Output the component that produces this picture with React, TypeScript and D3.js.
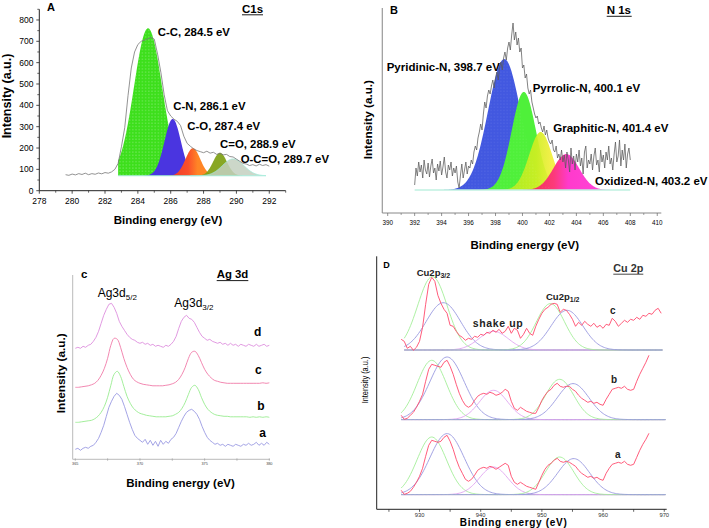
import React from "react";
import * as d3 from "d3";

const FONT = "'Liberation Sans', Arial, Helvetica, sans-serif";

// ================= Panel A : C1s =================
const c1sStart = 279.6;
const c1sStep = 0.2;
const c1sIntensity = [75, 72, 78, 74, 80, 76, 82, 75, 80, 77, 83, 79, 85, 82, 88, 100, 128, 206, 295, 445, 575, 650, 685, 700, 705, 712, 718, 710, 640, 555, 450, 375, 350, 335, 325, 305, 255, 222, 208, 196, 188, 183, 178, 185, 176, 180, 170, 175, 168, 170, 160, 158, 148, 138, 128, 125, 118, 122, 116, 124, 118, 122, 115];
const c1sBaseline = 70;
const c1sFitRange = [282.8, 291.8];
const c1sCenters = [284.62, 286.12, 287.35, 289.0, 289.8];
const c1sHeights = [691, 266, 129, 108, 79];
const c1sSigmas = [0.85, 0.5, 0.45, 0.42, 0.65];
const c1sLabels = ["C-C, 284.5 eV", "C-N, 286.1 eV", "C-O, 287.4 eV", "C=O, 288.9 eV", "O-C=O, 289.7 eV"];
const c1sYTicks = [0, 100, 200, 300, 400, 500, 600, 700, 800];
const c1sXTicks = [278, 280, 282, 284, 286, 288, 290, 292];

// ================= Panel B : N 1s =================
const n1sStart = 392.0;
const n1sStep = 0.1;
const n1sIntensity = [
  5, 22, 14, 28, 18, 25, 12, 30, 20, 16, 27, 13, 24, 31, 17, 22, 10, 26, 19, 29, 15, 23, 33, 18, 12, 25, 20, 28, 14, 22, 17,
  24, 8, 2, 15, 26, 12, 20, 28, 16, 24,
  22, 30, 26, 38, 44, 40, 52, 58, 66, 60,
  76, 88, 82, 94, 100, 96, 104, 110, 102, 112,
  118, 110, 122, 128, 120, 132, 138, 130, 142, 148,
  140, 155, 167, 150, 158, 145, 152, 138, 142, 122,
  125, 112, 116, 102, 96, 100, 88, 82, 76, 72,
  74, 66, 68, 62, 58, 64, 55, 60, 52, 48,
  46, 50, 40, 38, 44, 32, 36, 30, 40, 28,
  35, 22, 38, 30, 18, 42, 26, 34, 20, 36,
  28, 40, 24, 32, 16, 38, 44, 22, 30, 26,
  36, 20, 34, 42, 25, 30, 18, 40, 28, 35,
  22, 38, 30, 44, 26, 32, 20, 36, 48, 28,
  34, 50, 24, 40, 30, 46, 22, 36, 42, 30,
];
const n1sFitRange = [392, 408];
const n1sCenters = [398.65, 400.1, 401.35, 403.25];
const n1sHeights = [131, 98, 58, 36];
const n1sSigmas = [1.2, 0.9, 0.85, 0.95];
const n1sLabels = ["Pyridinic-N, 398.7 eV", "Pyrrolic-N, 400.1 eV", "Graphitic-N, 401.4 eV", "Oxidized-N, 403.2 eV"];
const n1sXTicks = [390, 392, 394, 396, 398, 400, 402, 404, 406, 408, 410];

// ================= Panel C : Ag 3d =================
const agSmoothStep = 0.25;
const agNoisyStep = 0.2;
const agStart = 365;
const agA = [10, 11, 9, 11, 12, 11, 13, 14, 17, 21, 27, 34, 43, 52, 58, 63, 66, 64, 60, 53, 45, 37, 30, 24, 21, 19, 17, 20, 15, 19, 14, 18, 13, 19, 15, 18, 16, 20, 22, 26, 32, 38, 43, 47, 49, 50, 48, 45, 40, 33, 27, 22, 19, 17, 15, 16, 14, 15, 13, 15, 14, 13, 15, 14, 13, 15, 14, 16, 14, 15, 17, 14, 16, 14, 17, 15];
const agB = [37, 37, 37.5, 38, 38.5, 39, 40.5, 43, 47, 53, 62, 74, 85, 88, 83, 73, 63, 56, 51, 48, 46, 45, 44, 43.5, 43, 42.5, 42.5, 42.5, 42.5, 43, 43.5, 45, 47, 51, 57, 65, 72, 74, 70, 62, 55, 50, 47, 45, 44, 43.5, 43, 43, 42.5, 42.5, 42.5, 42.5, 42.5, 42.5, 42, 42.5, 42, 42.5, 42, 42.5, 42];
const agC = [72, 72, 72.5, 73, 73.5, 74.5, 76, 79, 84, 91, 101, 114, 121, 120, 112, 101, 92, 85, 80, 77.5, 76, 75, 74.5, 74, 73.5, 73.5, 73.5, 73.5, 74, 74.5, 75.5, 77, 80, 85, 92, 101, 107, 108, 104, 97, 90, 85, 81.5, 79, 78, 77, 76.5, 76, 76, 76, 76, 76, 76, 76, 76, 76, 76, 76, 76.5, 76, 76.5];
const agD = [111, 112, 111, 113, 112, 114, 115, 118, 122, 128, 136, 144, 150, 155, 156, 152, 146, 138, 133, 129, 125, 122, 120, 119, 117, 116, 117, 115, 116, 114, 115, 113, 114, 113, 112, 114, 113, 115, 118, 123, 131, 138, 142, 144, 141, 140, 137, 132, 127, 123, 121, 119, 120, 118, 117, 116, 117, 115, 116, 114, 116, 114, 115, 113, 115, 114, 113, 115, 114, 113, 115, 113, 114, 115, 113, 114];
const agXTicks = [365, 370, 375, 380];
const agMinorTicks = [365, 367.5, 370, 372.5, 375, 377.5, 380];
const agSeriesNames = ["a", "b", "c", "d"];

// ================= Panel D : Cu 2p =================
const cuStart = 927.0;
const cuStep = 0.5;
const cuC = [170, 168, 161, 163, 159, 162, 168, 182, 205, 225, 232, 228, 214, 206, 200, 196, 184, 183, 178, 174, 172, 169, 171, 170, 173, 172, 175, 174, 177, 176, 179, 177, 180, 176, 178, 183, 176, 181, 179, 171, 175, 181, 176, 174, 183, 190, 196, 200, 202, 205, 206, 205, 197, 200, 199, 195, 190, 183, 187, 184, 188, 185, 183, 186, 182, 184, 181, 185, 184, 191, 188, 183, 186, 189, 187, 190, 189, 192, 190, 194, 193, 196, 195, 199, 201, 196];
const cuB = [94, 90, 91, 94, 97, 102, 108, 115, 128, 140, 145, 144, 143, 142, 147, 149, 143, 135, 125, 116, 109, 104, 102, 104, 109, 113, 115, 116, 115, 117, 116, 114, 115, 117, 120, 118, 108, 101, 99, 102, 100, 98, 97, 96, 96, 102, 109, 114, 118, 120, 124, 126, 123, 122, 123, 123, 120, 118, 114, 111, 109, 107, 108, 106, 107, 105, 104, 110, 115, 120, 121, 122, 121, 123, 120, 119, 120, 128, 135, 141, 147, 154];
const cuA = [19, 15, 16, 18, 22, 27, 33, 41, 53, 64, 69, 68, 67, 68, 72, 74, 68, 60, 50, 42, 36, 30, 28, 30, 34, 39, 41, 42, 41, 43, 42, 40, 42, 44, 46, 44, 33, 27, 25, 27, 25, 23, 22, 21, 20, 27, 34, 40, 44, 46, 49, 51, 48, 47, 48, 47, 45, 43, 39, 36, 34, 32, 33, 31, 32, 30, 29, 36, 41, 45, 46, 47, 46, 48, 45, 44, 45, 52, 59, 65, 70, 76];
const cuBaselines = [14.7, 89.7, 159.3];
const cuRanges = [[927.0, 970.2], [927.0, 970.2], [927.5, 969.7]];
// peaks per spectrum: [Cu2p3/2 green, Cu2p3/2 blue, shake-up, Cu2p1/2 green, Cu2p1/2 blue]
const cuCenters = [
  [932.0, 934.5, 942.1, 952.9, 955.2],
  [932.0, 934.5, 942.1, 952.9, 955.1],
  [932.1, 933.9, 942.1, 951.4, 954.1],
];
const cuHeights = [
  [57.6, 61.0, 27.6, 37.6, 36.0],
  [59.3, 62.6, 29.3, 40.3, 36.0],
  [73.4, 47.3, 18.7, 46.4, 39.7],
];
const cuSigmas = [
  [2.4, 2.8, 2.3, 2.3, 2.6],
  [2.4, 2.8, 2.3, 2.3, 2.6],
  [2.4, 2.8, 2.4, 2.3, 2.6],
];
const cuXTicks = [930, 940, 950, 960, 970];
const cuMinorTicks = [925, 930, 935, 940, 945, 950, 955, 960, 965, 970];
const cuSeriesNames = ["a", "b", "c"];

// ================= helpers =================
type P = [number, number];
const toPts = (start: number, step: number, vals: number[]): P[] => vals.map((v, i) => [start + i * step, v]);
const gauss = (c: number, h: number, s: number, base: number, lo: number, hi: number, n = 160): P[] =>
  d3.range(n + 1).map((i) => {
    const x = lo + ((hi - lo) * i) / n;
    return [x, base + h * Math.exp(-((x - c) * (x - c)) / (2 * s * s))];
  });

const xA = d3.scaleLinear().domain([278, 293]).range([39.3, 285.7]);
const yA = d3.scaleLinear().domain([0, 850]).range([190.7, 9.3]);
const xB = d3.scaleLinear().domain([389.6, 410.3]).range([382.3, 661.3]);
const yB = d3.scaleLinear().domain([-23, 182]).range([213, 8]);
const xC = d3.scaleLinear().domain([364.8, 380]).range([72.7, 269.3]);
const yC = d3.scaleLinear().domain([0, 184]).range([459.3, 275.3]);
const xD = d3.scaleLinear().domain([923, 970.4]).range([376.7, 666.7]);
const yD = d3.scaleLinear().domain([0, 253]).range([509.3, 256.3]);

const aColors = ["#3ddf1c", "#4a35e0", "url(#gCO)", "#7ea012", "#c3d0c0"];
const aOpac = [1, 1, 1, 0.92, 0.85];
const bColors = ["#4258e0", "#4ff03a", "url(#gYel)", "url(#gMag)"];
const bOpac = [1, 1, 0.92, 1];
const cColors = ["#9a9ae2", "#98ec90", "#f07aa8", "#de8ede"];
const dColors = ["#a4ee98", "#9a9ae0", "#e0a4f0", "#a4ee98", "#9a9ae0"];

function PanelA() {
  const line = d3.line<P>().x((d) => xA(d[0])).y((d) => yA(d[1]));
  const area = d3.area<P>().x((d) => xA(d[0])).y0(yA(c1sBaseline)).y1((d) => yA(d[1]));
  const pts = toPts(c1sStart, c1sStep, c1sIntensity);
  const minorY = d3.range(50, 851, 100);
  const minorX = d3.range(279, 294, 2);
  return (
    <g>
      {c1sCenters.map((c, i) => {
        const s = c1sSigmas[i];
        const lo = Math.max(c1sFitRange[0], c - 4 * s);
        const hi = Math.min(c1sFitRange[1], c + 4 * s);
        const g = gauss(c, c1sHeights[i], s, c1sBaseline, lo, hi);
        return (
          <g key={i}>
            <path d={area(g) || ""} fill={aColors[i]} opacity={aOpac[i]} />
            {i === 0 && <path d={area(g) || ""} fill="url(#dots)" />}
            {i === 4 && <path d={line(g) || ""} fill="none" stroke="#9fe8d8" strokeWidth={0.8} />}
          </g>
        );
      })}
      <line x1={xA(c1sFitRange[0])} x2={xA(c1sFitRange[1])} y1={yA(c1sBaseline)} y2={yA(c1sBaseline)} stroke="#a8ecdc" strokeWidth={1.2} />
      <path d={line(pts) || ""} fill="none" stroke="#777" strokeWidth={0.8} />
      <line x1={xA(278)} x2={xA(278)} y1={yA(850)} y2={yA(0)} stroke="#222" strokeWidth={1} />
      <line x1={xA(278)} x2={xA(293)} y1={yA(0)} y2={yA(0)} stroke="#222" strokeWidth={1} />
      {c1sYTicks.map((t) => (
        <g key={t}>
          <line x1={xA(278) - 3} x2={xA(278)} y1={yA(t)} y2={yA(t)} stroke="#222" strokeWidth={0.8} />
          <text x={33.5} y={yA(t)} dy="0.35em" textAnchor="end" fontSize={8.5} fontFamily={FONT}>{t}</text>
        </g>
      ))}
      {minorY.map((t) => (
        <line key={t} x1={xA(278) - 2} x2={xA(278)} y1={yA(t)} y2={yA(t)} stroke="#222" strokeWidth={0.7} />
      ))}
      {c1sXTicks.map((t) => (
        <g key={t}>
          <line x1={xA(t)} x2={xA(t)} y1={yA(0)} y2={yA(0) + 3} stroke="#222" strokeWidth={0.8} />
          <text x={xA(t)} y={204} textAnchor="middle" fontSize={8.5} fontFamily={FONT}>{t}</text>
        </g>
      ))}
      {minorX.map((t) => (
        <line key={t} x1={xA(t)} x2={xA(t)} y1={yA(0)} y2={yA(0) + 2} stroke="#222" strokeWidth={0.7} />
      ))}
      <text x={168} y={223.5} textAnchor="middle" fontSize={11.5} fontWeight="bold" fontFamily={FONT}>Binding energy (eV)</text>
      <text transform="translate(11,96) rotate(-90)" textAnchor="middle" fontSize={12.5} fontWeight="bold" fontFamily={FONT}>Intensity (a.u.)</text>
      <text x={47} y={10.5} fontSize={11} fontWeight="bold" fontFamily={FONT}>A</text>
      <text x={242} y={12.5} fontSize={11.5} fontWeight="bold" fontFamily={FONT}>C1s</text>
      <line x1={242} x2={263} y1={14.8} y2={14.8} stroke="#000" strokeWidth={0.9} />
      {[
        [157.7, 35.8],
        [173.3, 110],
        [187.3, 130],
        [220, 148],
        [240.7, 163],
      ].map((p, i) => (
        <text key={i} x={p[0]} y={p[1]} fontSize={11.4} fontWeight="bold" fontFamily={FONT}>{c1sLabels[i]}</text>
      ))}
    </g>
  );
}

function PanelB() {
  const line = d3.line<P>().x((d) => xB(d[0])).y((d) => yB(d[1]));
  const area = d3.area<P>().x((d) => xB(d[0])).y0(yB(0)).y1((d) => yB(d[1]));
  const pts = toPts(n1sStart, n1sStep, n1sIntensity);
  const minorX = d3.range(391, 410, 2);
  return (
    <g>
      {n1sCenters.map((c, i) => {
        const s = n1sSigmas[i];
        const g = gauss(c, n1sHeights[i], s, 0, Math.max(n1sFitRange[0], c - 4 * s), Math.min(n1sFitRange[1], c + 4 * s));
        return <path key={i} d={area(g) || ""} fill={bColors[i]} opacity={bOpac[i]} />;
      })}
      <path d={area(gauss(n1sCenters[0], n1sHeights[0], n1sSigmas[0], 0, 394, 403)) || ""} fill="url(#dots2)" />
      <line x1={xB(n1sFitRange[0])} x2={xB(n1sFitRange[1])} y1={yB(0)} y2={yB(0)} stroke="#bff0e0" strokeWidth={1.6} />
      <path d={line(pts) || ""} fill="none" stroke="#5a5a5a" strokeWidth={0.75} />
      <line x1={xB(389.6)} x2={xB(389.6)} y1={8} y2={yB(-23)} stroke="#999" strokeWidth={1.2} />
      <line x1={xB(389.6)} x2={xB(410.3)} y1={yB(-23)} y2={yB(-23)} stroke="#888" strokeWidth={1} />
      {n1sXTicks.map((t) => (
        <g key={t}>
          <line x1={xB(t)} x2={xB(t)} y1={yB(-23)} y2={yB(-23) + 3} stroke="#666" strokeWidth={0.7} />
          <text x={xB(t)} y={225} textAnchor="middle" fontSize={6.3} fontFamily={FONT}>{t}</text>
        </g>
      ))}
      {minorX.map((t) => (
        <line key={t} x1={xB(t)} x2={xB(t)} y1={yB(-23)} y2={yB(-23) + 2} stroke="#666" strokeWidth={0.6} />
      ))}
      <text x={524.7} y={249} textAnchor="middle" fontSize={11.5} fontWeight="bold" fontFamily={FONT}>Binding energy (eV)</text>
      <text transform="translate(372,119.7) rotate(-90)" textAnchor="middle" fontSize={11.7} fontWeight="bold" fontFamily={FONT}>Intensity (a.u.)</text>
      <text x={390} y={14} fontSize={11} fontWeight="bold" fontFamily={FONT}>B</text>
      <text x={606.7} y={14} fontSize={11.5} fontWeight="bold" fontFamily={FONT}>N 1s</text>
      <line x1={606.7} x2={631.7} y1={16.3} y2={16.3} stroke="#000" strokeWidth={0.9} />
      {[
        [386.7, 70.8],
        [532.7, 92.4],
        [553.3, 131.8],
        [595, 185.1],
      ].map((p, i) => (
        <text key={i} x={p[0]} y={p[1]} fontSize={11.5} fontWeight="bold" fontFamily={FONT}>{n1sLabels[i]}</text>
      ))}
    </g>
  );
}

function PanelC() {
  const line = d3.line<P>().x((d) => xC(d[0])).y((d) => yC(d[1]));
  const series = [
    toPts(agStart, agNoisyStep, agA),
    toPts(agStart, agSmoothStep, agB),
    toPts(agStart, agSmoothStep, agC),
    toPts(agStart, agNoisyStep, agD),
  ];
  const smooth = d3.line<P>().x((d) => xC(d[0])).y((d) => yC(d[1])).curve(d3.curveCatmullRom);
  const labelPos = [
    [259.3, 437],
    [257.3, 410],
    [255, 374],
    [254, 336],
  ];
  return (
    <g>
      {series.map((s, i) => (
        <path key={i} d={(i === 1 || i === 2 ? smooth(s) : line(s)) || ""} fill="none" stroke={cColors[i]} strokeWidth={0.9} />
      ))}
      <line x1={xC(364.8)} x2={xC(364.8)} y1={275} y2={yC(0)} stroke="#bbb" strokeWidth={1} />
      <line x1={xC(364.8)} x2={xC(380.05)} y1={yC(0)} y2={yC(0)} stroke="#bbb" strokeWidth={1} />
      {agMinorTicks.map((t) => (
        <line key={t} x1={xC(t)} x2={xC(t)} y1={yC(0) - 1} y2={yC(0) + 1.5} stroke="#999" strokeWidth={0.6} />
      ))}
      {agXTicks.map((t) => (
        <text key={t} x={xC(t)} y={464.5} textAnchor="middle" fontSize={3.8} fontFamily={FONT} fill="#444">{t}</text>
      ))}
      <text x={180.5} y={487} textAnchor="middle" fontSize={11.5} fontWeight="bold" fontFamily={FONT}>Binding energy (eV)</text>
      <text transform="translate(65,373.3) rotate(-90)" textAnchor="middle" fontSize={11.8} fontWeight="bold" fontFamily={FONT}>Intensity (a.u.)</text>
      <text x={81} y={277.5} fontSize={11.5} fontWeight="bold" fontFamily={FONT}>c</text>
      <text x={216.7} y={278} fontSize={11.4} fontWeight="bold" fontFamily={FONT}>Ag 3d</text>
      <line x1={216.7} x2={248.3} y1={280.6} y2={280.6} stroke="#000" strokeWidth={0.9} />
      <text x={97.7} y={296.5} fontSize={12} fontFamily={FONT}>
        Ag3d<tspan fontSize={8} dy={3}>5/2</tspan>
      </text>
      <text x={174.3} y={306.5} fontSize={12} fontFamily={FONT}>
        Ag3d<tspan fontSize={8} dy={3}>3/2</tspan>
      </text>
      {labelPos.map((p, i) => (
        <text key={i} x={p[0]} y={p[1]} fontSize={12} fontWeight="bold" fontFamily={FONT}>{agSeriesNames[i]}</text>
      ))}
    </g>
  );
}

function PanelD() {
  const line = d3.line<P>().x((d) => xD(d[0])).y((d) => yD(d[1]));
  const spectra = [toPts(cuStart, cuStep, cuA), toPts(cuStart, cuStep, cuB), toPts(cuStart, cuStep, cuC)];
  const labelPos = [
    [615, 458.3],
    [611, 382.7],
    [610, 314.3],
  ];
  return (
    <g>
      {spectra.map((sp, k) => {
        const base = cuBaselines[k];
        const [lo, hi] = cuRanges[k];
        return (
          <g key={k}>
            <line x1={xD(lo)} x2={xD(hi)} y1={yD(base)} y2={yD(base)} stroke="#ee90ee" strokeWidth={1} />
            {cuCenters[k].map((c, i) => (
              <path key={i} d={line(gauss(c, cuHeights[k][i], cuSigmas[k][i], base, lo, hi, 200)) || ""} fill="none" stroke={dColors[i]} strokeWidth={0.9} />
            ))}
            <path d={line(sp) || ""} fill="none" stroke="#ff4a6c" strokeWidth={0.9} />
          </g>
        );
      })}
      <line x1={xD(923)} x2={xD(923)} y1={256.3} y2={yD(0)} stroke="#222" strokeWidth={1} />
      <line x1={xD(923)} x2={xD(970.4)} y1={yD(0)} y2={yD(0)} stroke="#222" strokeWidth={1} />
      {cuMinorTicks.map((t) => (
        <line key={t} x1={xD(t)} x2={xD(t)} y1={yD(0)} y2={yD(0) + 2.5} stroke="#222" strokeWidth={0.7} />
      ))}
      {cuXTicks.map((t) => (
        <text key={t} x={xD(t)} y={517} textAnchor="middle" fontSize={5.8} fontFamily={FONT} fill="#333">{t}</text>
      ))}
      <text x={513.3} y={525.5} textAnchor="middle" fontSize={10} fontWeight="bold" fontFamily={FONT} textLength={107} lengthAdjust="spacing">Binding energy (eV)</text>
      <text transform="translate(368,380) rotate(-90)" textAnchor="middle" fontSize={8.5} fontFamily={FONT} textLength={46.7} lengthAdjust="spacingAndGlyphs">Intensity (a.u.)</text>
      <text x={383.3} y={268.3} fontSize={9} fontWeight="bold" fontFamily={FONT}>D</text>
      <text x={613.3} y={272} fontSize={10.8} fontWeight="bold" fontFamily={FONT} fill="#333">Cu 2p</text>
      <line x1={613.3} x2={643.3} y1={274.2} y2={274.2} stroke="#333" strokeWidth={0.9} />
      <text x={416.7} y={275.5} fontSize={9.5} fontWeight="bold" fontFamily={FONT} fill="#222">
        Cu2p<tspan fontSize={7} dy={2}>3/2</tspan>
      </text>
      <text x={546} y={300} fontSize={9.5} fontWeight="bold" fontFamily={FONT} fill="#222">
        Cu2p<tspan fontSize={7} dy={2}>1/2</tspan>
      </text>
      <text x={472.7} y={326.7} fontSize={10.5} fontWeight="bold" fontFamily={FONT} textLength={50} lengthAdjust="spacing" fill="#222">shake up</text>
      {labelPos.map((p, i) => (
        <text key={i} x={p[0]} y={p[1]} fontSize={10} fontWeight="bold" fontFamily={FONT} fill="#222">{cuSeriesNames[i]}</text>
      ))}
    </g>
  );
}

export default function App() {
  return (
    <svg width={709} height={528} style={{ position: "absolute", left: 0, top: 0, background: "#fff" }}>
      <defs>
        <pattern id="dots" width={3.2} height={3.2} patternUnits="userSpaceOnUse">
          <circle cx={1.6} cy={1.6} r={0.45} fill="#fff" opacity={0.75} />
        </pattern>
        <pattern id="dots2" width={3.2} height={3.2} patternUnits="userSpaceOnUse">
          <circle cx={1.6} cy={1.6} r={0.4} fill="#fff" opacity={0.25} />
        </pattern>
        <linearGradient id="gCO" x1="0" x2="1" y1="0" y2="0">
          <stop offset="0%" stopColor="#e8332a" />
          <stop offset="42%" stopColor="#fb4f2a" />
          <stop offset="58%" stopColor="#ff8526" />
          <stop offset="100%" stopColor="#ff8c26" />
        </linearGradient>
        <linearGradient id="gYel" x1="0" x2="1" y1="0" y2="0">
          <stop offset="0%" stopColor="#a8ec22" />
          <stop offset="45%" stopColor="#d0ee22" />
          <stop offset="62%" stopColor="#f2ee3a" />
          <stop offset="100%" stopColor="#f4ee55" />
        </linearGradient>
        <linearGradient id="gMag" x1="0" x2="1" y1="0" y2="0">
          <stop offset="0%" stopColor="#ee2a3a" />
          <stop offset="38%" stopColor="#fc3a7a" />
          <stop offset="52%" stopColor="#ff3acc" />
          <stop offset="100%" stopColor="#ff48dc" />
        </linearGradient>
      </defs>
      <rect width={709} height={528} fill="#fff" />
      <PanelA />
      <PanelB />
      <PanelC />
      <PanelD />
    </svg>
  );
}
